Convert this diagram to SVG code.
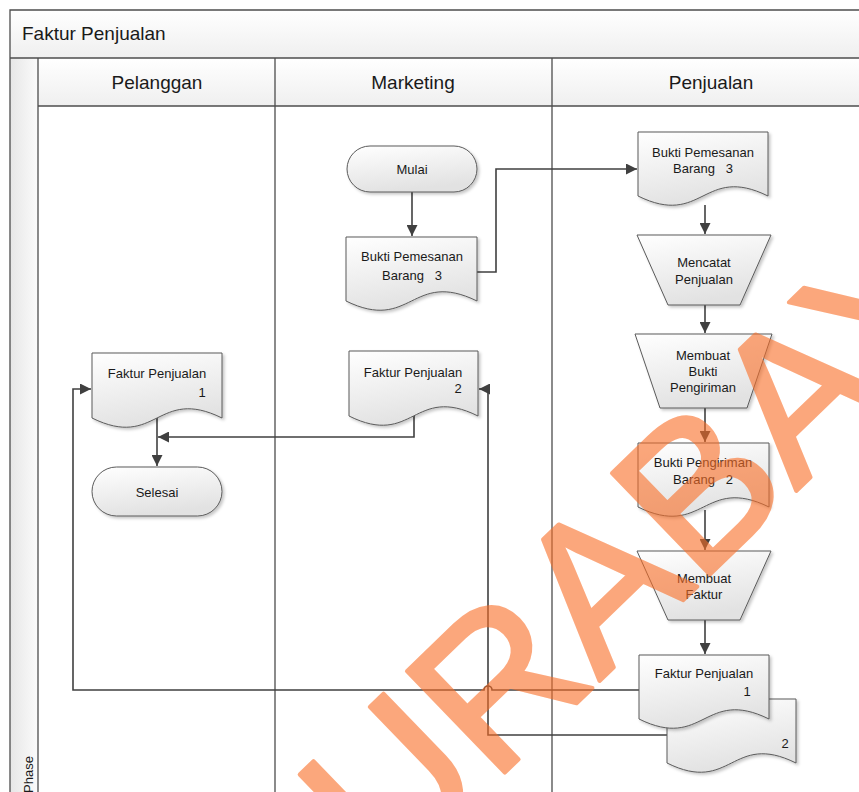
<svg xmlns="http://www.w3.org/2000/svg" width="859" height="792" viewBox="0 0 859 792">
  <style>
    .lane { fill: none; stroke: #4d4d4d; stroke-width: 1.3; }
    .shape { fill: url(#shapeFill); stroke: #5a5a5a; stroke-width: 1; filter: url(#shadow); }
    .lbl { font-family: "Liberation Sans", Arial, sans-serif; font-size: 13px; fill: #1a1a1a; text-anchor: middle; }
    .num { font-family: "Liberation Sans", Arial, sans-serif; font-size: 13px; fill: #1a1a1a; text-anchor: middle; }
    .head { font-family: "Liberation Sans", Arial, sans-serif; font-size: 19px; fill: #1a1a1a; text-anchor: middle; }
    .conn { fill: none; stroke: #404040; stroke-width: 1.6; }
  </style>
  <defs>
    <linearGradient id="shapeFill" x1="0" y1="0" x2="0.3" y2="1">
      <stop offset="0" stop-color="#ffffff"/>
      <stop offset="1" stop-color="#e2e2e2"/>
    </linearGradient>
    <linearGradient id="barFill" x1="0" y1="0" x2="0" y2="1">
      <stop offset="0" stop-color="#ffffff"/>
      <stop offset="1" stop-color="#efefef"/>
    </linearGradient>
    <linearGradient id="phaseFill" x1="0" y1="0" x2="1" y2="0">
      <stop offset="0" stop-color="#e6e6e6"/>
      <stop offset="1" stop-color="#fbfbfb"/>
    </linearGradient>
    <filter id="shadow" x="-10%" y="-10%" width="130%" height="130%">
      <feDropShadow dx="2" dy="2" stdDeviation="1.5" flood-color="#000000" flood-opacity="0.22"/>
    </filter>
    <marker id="arrow" viewBox="0 0 10 10" refX="10" refY="5" markerWidth="11" markerHeight="11" markerUnits="userSpaceOnUse" orient="auto">
      <path d="M0,0 L10,5 L0,10 z" fill="#404040"/>
    </marker>
  </defs>

  <rect width="859" height="792" fill="#ffffff"/>

  <!-- pool: title bar, phase column, lane headers -->
  <g id="pool">
    <rect x="10" y="10" width="860" height="48" fill="url(#barFill)"/>
    <rect x="10" y="58" width="28" height="740" fill="url(#phaseFill)"/>
    <rect x="38" y="58" width="832" height="48" fill="url(#barFill)"/>
    <path class="lane" d="M10,800 V10 H870 M10,58 H870 M38,106 H870 M38,58 V800 M275,58 V800 M552,58 V800"/>
    <text x="22" y="40" font-family="Liberation Sans, Arial, sans-serif" font-size="19" fill="#1a1a1a">Faktur Penjualan</text>
    <text class="head" x="157" y="89">Pelanggan</text>
    <text class="head" x="413" y="89">Marketing</text>
    <text class="head" x="711" y="89">Penjualan</text>
    <text transform="translate(33,793) rotate(-90)" font-family="Liberation Sans, Arial, sans-serif" font-size="13" fill="#1a1a1a">Phase</text>
  </g>

  <!-- connectors -->
  <g id="connectors">
    <path class="conn" d="M412,192 V236" marker-end="url(#arrow)"/>
    <path class="conn" d="M477,272 H496 V169 H637" marker-end="url(#arrow)"/>
    <path class="conn" d="M705,205 V234" marker-end="url(#arrow)"/>
    <path class="conn" d="M705,305 V333" marker-end="url(#arrow)"/>
    <path class="conn" d="M705,408 V442" marker-end="url(#arrow)"/>
    <path class="conn" d="M705,510 V550" marker-end="url(#arrow)"/>
    <path class="conn" d="M705,620 V654" marker-end="url(#arrow)"/>
    <path class="conn" d="M639,690 H492 A4,4 0 0 0 484,690 H73 V389 H91" marker-end="url(#arrow)"/>
    <path class="conn" d="M667,735 H488 V389 H479" marker-end="url(#arrow)"/>
    <path class="conn" d="M157,418 V466" marker-end="url(#arrow)"/>
    <path class="conn" d="M414,416 V437 H158" marker-end="url(#arrow)"/>
  </g>

  <!-- Marketing lane -->
  <g id="mulai">
    <rect class="shape" x="347" y="146" width="130" height="46" rx="23"/>
    <text class="lbl" x="412" y="174">Mulai</text>
  </g>
  <g id="bukti-pemesanan-marketing">
    <path class="shape" d="M346,237 H477 V301 C411.5,269 411.5,333 346,301 Z"/>
    <text class="lbl" x="412" y="261">Bukti Pemesanan</text>
    <text class="lbl" x="412" y="280" xml:space="preserve">Barang   3</text>
  </g>
  <g id="faktur-marketing">
    <path class="shape" d="M349,351 H478 V416 C413.5,384 413.5,448 349,416 Z"/>
    <text class="lbl" x="413" y="377">Faktur Penjualan</text>
    <text class="num" x="458" y="393">2</text>
  </g>

  <!-- Pelanggan lane -->
  <g id="faktur-pelanggan">
    <path class="shape" d="M92,353 H222 V418 C157,386 157,450 92,418 Z"/>
    <text class="lbl" x="157" y="378">Faktur Penjualan</text>
    <text class="num" x="202" y="397">1</text>
  </g>
  <g id="selesai">
    <rect class="shape" x="92" y="467" width="130" height="49" rx="24.5"/>
    <text class="lbl" x="157" y="497">Selesai</text>
  </g>

  <!-- Penjualan lane -->
  <g id="bukti-pemesanan-penjualan">
    <path class="shape" d="M638,132 H768 V196 C703,164 703,228 638,196 Z"/>
    <text class="lbl" x="703" y="157">Bukti Pemesanan</text>
    <text class="lbl" x="703" y="173" xml:space="preserve">Barang   3</text>
  </g>
  <g id="mencatat-penjualan">
    <path class="shape" d="M637,235 H771 L740,305 H668 Z"/>
    <text class="lbl" x="704" y="267">Mencatat</text>
    <text class="lbl" x="704" y="284">Penjualan</text>
  </g>
  <g id="membuat-bukti-pengiriman">
    <path class="shape" d="M635,334 H772 L747,408 H660 Z"/>
    <text class="lbl" x="703" y="360">Membuat</text>
    <text class="lbl" x="703" y="376">Bukti</text>
    <text class="lbl" x="703" y="392">Pengiriman</text>
  </g>
  <g id="bukti-pengiriman">
    <path class="shape" d="M638,443 H769 V507 C703.5,475 703.5,539 638,507 Z"/>
    <text class="lbl" x="703" y="467">Bukti Pengiriman</text>
    <text class="lbl" x="703" y="484" xml:space="preserve">Barang   2</text>
  </g>
  <g id="membuat-faktur">
    <path class="shape" d="M637,551 H771 L740,620 H668 Z"/>
    <text class="lbl" x="704" y="583">Membuat</text>
    <text class="lbl" x="704" y="599">Faktur</text>
  </g>
  <g id="faktur-penjualan-2">
    <path class="shape" d="M667,699 H796 V763 C731.5,731 731.5,795 667,763 Z"/>
    <text class="num" x="785" y="748">2</text>
  </g>
  <g id="faktur-penjualan-1">
    <path class="shape" d="M639,655 H769 V719 C704,687 704,751 639,719 Z"/>
    <text class="lbl" x="704" y="678">Faktur Penjualan</text>
    <text class="num" x="747" y="696">1</text>
  </g>

  <!-- watermark -->
  <g opacity="0.6">
    <text transform="translate(288,982) rotate(-44)" font-family="Liberation Sans, Arial, sans-serif" font-size="205" fill="#FA6E26" stroke="#FA6E26" stroke-width="4" stroke-linejoin="round">SURABAYA</text>
  </g>
</svg>
